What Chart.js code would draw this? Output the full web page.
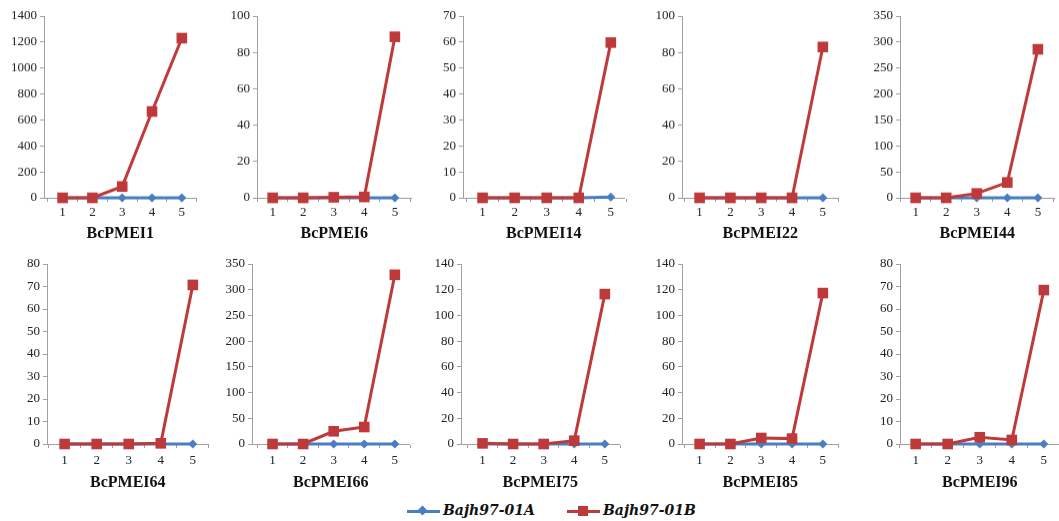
<!DOCTYPE html>
<html><head><meta charset="utf-8">
<script src="https://cdn.jsdelivr.net/npm/chart.js@4.4.0/dist/chart.umd.min.js"></script>
<style>
html,body{margin:0;padding:0;background:#fff;width:1059px;height:521px;overflow:hidden;position:relative;}
canvas.p{position:absolute;}
.lg-line{position:absolute;height:3px;}
.lg-mk{position:absolute;}
.lg-txt{position:absolute;font:bold italic 14px "DejaVu Serif";color:#111;white-space:nowrap;}
</style></head><body>
<div class="lg-line" style="left:407px;top:510px;width:33px;background:#4A7EC0"></div>
<div class="lg-mk" style="left:419px;top:507px;width:7px;height:7px;background:#4A7EC0;transform:rotate(45deg)"></div>
<div class="lg-txt" id="lgA" style="left:443px;top:502px"></div>
<div class="lg-line" style="left:567px;top:510px;width:33px;background:#BE3A3A"></div>
<div class="lg-mk" style="left:578px;top:506px;width:10px;height:10px;background:#BE3A3A"></div>
<div class="lg-txt" id="lgB" style="left:603px;top:502px"></div>
<script>
// ---- data ----
const categories = [1, 2, 3, 4, 5];
const seriesNames = ['Bajh97-01A', 'Bajh97-01B'];
const genes = ['BcPMEI1','BcPMEI6','BcPMEI14','BcPMEI22','BcPMEI44','BcPMEI64','BcPMEI66','BcPMEI75','BcPMEI85','BcPMEI96'];

const pmei1A  = [0, 0, 0, 0, 0];
const pmei1B  = [0, 0, 87, 665, 1230];
const pmei6A  = [0, 0, 0, 0, 0];
const pmei6B  = [0, 0, 0.3, 0.5, 88.6];
const pmei14A = [0, 0, 0, 0, 0.3];
const pmei14B = [0, 0, 0, 0, 59.8];
const pmei22A = [0, 0, 0, 0, 0];
const pmei22B = [0, 0, 0, 0, 83];
const pmei44A = [0, 0, 0, 0, 0];
const pmei44B = [0, 0, 8.4, 29.6, 286];
const pmei64A = [0, 0, 0, 0, 0];
const pmei64B = [0, 0, 0, 0.3, 70.7];
const pmei66A = [0, 0, 0, 0, 0];
const pmei66B = [0, 0, 24.7, 33, 329];
const pmei75A = [0, 0, 0, 0, 0];
const pmei75B = [0.5, 0, 0, 2.6, 116.6];
const pmei85A = [0, 0, 0, 0, 0];
const pmei85B = [0, 0, 4.7, 4.2, 117.4];
const pmei96A = [0, 0, 0, 0, 0];
const pmei96B = [0, 0, 3.0, 1.8, 68.4];

const seriesA = [pmei1A, pmei6A, pmei14A, pmei22A, pmei44A, pmei64A, pmei66A, pmei75A, pmei85A, pmei96A];
const seriesB = [pmei1B, pmei6B, pmei14B, pmei22B, pmei44B, pmei64B, pmei66B, pmei75B, pmei85B, pmei96B];
const yMax  = [1400, 100, 70, 100, 350, 80, 350, 140, 140, 80];
const yStep = [200, 20, 10, 20, 50, 10, 50, 20, 20, 10];

// ---- layout (pixel placement of each panel) ----
const rows = [
  {top: 16,    bottom: 197.5, hx: 45, tp: 3},
  {top: 263.5, bottom: 443.5, hx: 48, tp: 5}
];
// L: y-axis line, x1/x5: centres of first/last category, R: right end of x axis
const panels = [
  {row:0, L:44,  x1:63,  x5:185,  R:200},
  {row:0, L:257, x1:273, x5:398,  R:415},
  {row:0, L:463, x1:483, x5:614,  R:628},
  {row:0, L:682, x1:700, x5:826,  R:842},
  {row:0, L:900, x1:916, x5:1041, R:1058},
  {row:1, L:47,  x1:65,  x5:196,  R:212},
  {row:1, L:252, x1:273, x5:398,  R:413},
  {row:1, L:461, x1:483, x5:608,  R:623},
  {row:1, L:682, x1:700, x5:826,  R:842},
  {row:1, L:900, x1:916, x5:1047, R:1063}
];

const RED = '#BE3A3A', BLUE = '#4A7EC0', AXIS = '#A0A0A0';
const YW = 60, PT = 12, PR = 4;

document.getElementById('lgA').textContent = seriesNames[0];
document.getElementById('lgB').textContent = seriesNames[1];

panels.forEach((p, i) => {
  const r = rows[p.row];
  const cw = YW + (p.R - p.L) + PR;
  const ch = PT + (r.bottom - r.top) + r.hx;
  const cv = document.createElement('canvas');
  cv.className = 'p';
  cv.style.left = (p.L - YW) + 'px';
  cv.style.top = (r.top - PT) + 'px';
  cv.style.width = cw + 'px';
  cv.style.height = ch + 'px';
  cv.width = cw; cv.height = ch;
  document.body.appendChild(cv);
  const s = (p.x5 - p.x1) / 4;
  const xmin = 1 - (p.x1 - p.L) / s;
  const xmax = 5 + (p.R - p.x5) / s;
  const pts = arr => categories.map((c, j) => ({x: c, y: arr[j]}));
  // tick marks sit between categories, labels on categories
  const tickVals = [];
  categories.forEach(c => { tickVals.push(c - 0.5); tickVals.push(c); });
  tickVals.push(categories[categories.length - 1] + 0.5);
  new Chart(cv, {
    type: 'line',
    data: {
      datasets: [
        {label: seriesNames[1], data: pts(seriesB[i]), borderColor: RED, backgroundColor: RED,
         borderWidth: 3, pointStyle: 'rect', pointRadius: 7.5, pointBorderWidth: 0, order: 0, clip: false},
        {label: seriesNames[0], data: pts(seriesA[i]), borderColor: BLUE, backgroundColor: BLUE,
         borderWidth: 3, pointStyle: 'rectRot', pointRadius: 4.5, pointBorderWidth: 0, order: 1, clip: false}
      ]
    },
    options: {
      responsive: false, animation: false, events: [],
      layout: {padding: {top: PT, right: PR, left: 0, bottom: 0}},
      plugins: {legend: {display: false}, tooltip: {enabled: false}},
      scales: {
        x: {
          type: 'linear', min: xmin, max: xmax,
          afterBuildTicks: sc => { sc.ticks = tickVals.map(v => ({value: v})); },
          afterFit: sc => { sc.height = r.hx; },
          grid: {display: true, drawOnChartArea: false, drawTicks: true, tickLength: 4,
                 color: c => (c.tick && Number.isInteger(c.tick.value)) ? 'rgba(0,0,0,0)' : AXIS},
          border: {display: true, color: AXIS, width: 1},
          ticks: {font: {family: 'Liberation Serif', size: 13}, color: '#222', padding: r.tp,
                  maxRotation: 0, autoSkip: false,
                  callback: v => Number.isInteger(v) ? String(v) : ''},
          title: {display: true, text: genes[i], color: '#111', padding: 0,
                  font: {family: 'Liberation Serif', size: 16, weight: 'bold'}}
        },
        y: {
          min: 0, max: yMax[i],
          afterFit: sc => { sc.width = YW; },
          grid: {drawOnChartArea: false, drawTicks: true, tickLength: 4, color: AXIS},
          border: {display: true, color: AXIS, width: 1},
          ticks: {stepSize: yStep[i], font: {family: 'Liberation Serif', size: 13}, color: '#222', padding: 3,
                  callback: v => String(v)}
        }
      }
    }
  });
});
</script>
</body></html>
